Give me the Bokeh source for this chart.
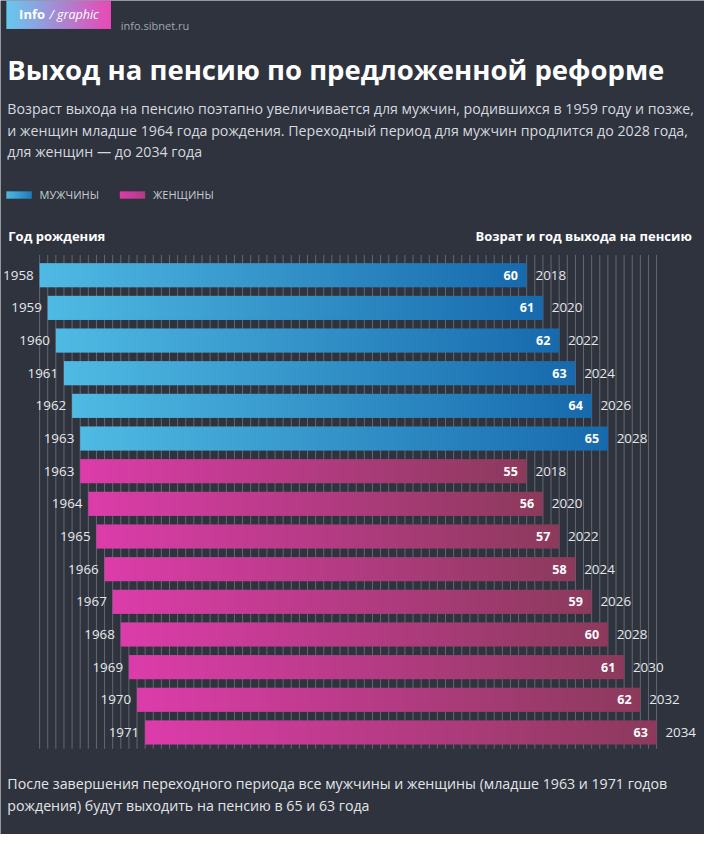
import numpy as np
from bokeh.plotting import figure
from bokeh.models import Range1d, Label
from bokeh.embed import file_html
from bokeh.resources import INLINE
from bokeh.core.properties import value

# ---------------- data ----------------
men_birth = [1958, 1959, 1960, 1961, 1962, 1963]
men_age = [60, 61, 62, 63, 64, 65]
men_exit = [2018, 2020, 2022, 2024, 2026, 2028]

women_birth = [1963, 1964, 1965, 1966, 1967, 1968, 1969, 1970, 1971]
women_age = [55, 56, 57, 58, 59, 60, 61, 62, 63]
women_exit = [2018, 2020, 2022, 2024, 2026, 2028, 2030, 2032, 2034]

legend_labels = ["МУЖЧИНЫ", "ЖЕНЩИНЫ"]

title_text = "Выход на пенсию по предложенной реформе"
subtitle_lines = [
    "Возраст выхода на пенсию поэтапно увеличивается для мужчин, родившихся в 1959 году и позже,",
    "и женщин младше 1964 года рождения. Переходный период для мужчин продлится до 2028 года,",
    "для женщин — до 2034 года",
]
note_lines = [
    "После завершения переходного периода все мужчины и женщины (младше 1963 и 1971 годов",
    "рождения) будут выходить на пенсию в 65 и 63 года",
]

# ---------------- style ----------------
BG = "#2e333e"
MEN_C = ("#4fbae3", "#176aad")
WOMEN_C = ("#dc3caa", "#8c3a5c")
FONT = "Open Sans"

W, H = 704, 834
SX, SY = W / 720, H / 850
PPY = (671 - 40) * SX / (2034 - 1958)          # pixels per year
X0 = 1958 - 40 * SX / PPY
X1 = X0 + W / PPY
ROW0 = 280 * SY
PITCH = (746 - 280) / 14 * SY
Y_TOP = (0 - ROW0) / PITCH
Y_BOT = (H - ROW0) / PITCH


def RX(rx):
    return X0 + rx * SX / PPY


def RY(ry):
    return (ry * SY - ROW0) / PITCH


def PADX(px):
    return px * SX / PPY


def hex_rgb(h):
    h = h.lstrip("#")
    return [int(h[i:i + 2], 16) for i in (0, 2, 4)]


def grad(c1, c2, n=256):
    a = np.array(hex_rgb(c1), dtype=float)
    b = np.array(hex_rgb(c2), dtype=float)
    t = np.linspace(0, 1, n)[:, None]
    rgb = np.round(a + (b - a) * t).astype(np.uint8)
    img = np.empty((1, n), dtype=np.uint32)
    v = img.view(dtype=np.uint8).reshape((1, n, 4))
    v[0, :, 0:3] = rgb
    v[0, :, 3] = 255
    return img


p = figure(width=W, height=H, x_range=Range1d(X0, X1), y_range=Range1d(Y_BOT, Y_TOP),
           output_backend="svg", toolbar_location=None, min_border=0,
           x_axis_location=None, y_axis_location=None)
p.grid.visible = False
p.outline_line_color = None
p.background_fill_color = BG
p.border_fill_color = BG

births = men_birth + women_birth
exits = men_exit + women_exit
ages = men_age + women_age
rows = list(range(len(births)))
BH = 0.74

# vertical year grid
grid_years = list(range(min(births), max(exits) + 1))
p.segment(x0=grid_years, x1=grid_years, y0=[-0.62] * len(grid_years), y1=[14.5] * len(grid_years),
          line_color="#858a94", line_alpha=0.6, line_width=1)

# bars with gradient
men_img = grad(*MEN_C)
women_img = grad(*WOMEN_C)
imgs = [men_img] * len(men_birth) + [women_img] * len(women_birth)
p.image_rgba(image=imgs, x=births, y=[r - BH / 2 for r in rows],
             dw=[e - b for b, e in zip(births, exits)], dh=[BH] * len(rows))

# labels on bars
p.text(x=[e - PADX(9) for e in exits], y=rows, text=[str(a) for a in ages],
       text_align="right", text_baseline="middle", text_font=value(FONT),
       text_font_style="bold", text_font_size="12.5px", text_color="white")
p.text(x=[e + PADX(9) for e in exits], y=rows, text=[str(e) for e in exits],
       text_align="left", text_baseline="middle", text_font=value(FONT),
       text_font_size="13.4px", text_color="#e6e8eb")
p.text(x=[b - PADX(6) for b in births], y=rows, text=[str(b) for b in births],
       text_align="right", text_baseline="middle", text_font=value(FONT),
       text_font_size="13.4px", text_color="#e6e8eb")

# header badge
p.image_rgba(image=[grad("#66c9f0", "#ea48b6")], x=[RX(6)], y=[RY(0)],
             dw=[RX(113) - RX(6)], dh=[RY(29) - RY(0)])


def lab(x, y, text, size, color="white", style="normal", align="left"):
    p.add_layout(Label(x=x, y=y, text=text, text_font=FONT, text_font_size=size,
                       text_color=color, text_font_style=style, text_align=align,
                       text_baseline="middle"))


lab(RX(19), RY(14), "Info", "13px", style="bold")
lab(RX(50), RY(14), "/ graphic", "12.5px", style="italic")
lab(RX(123), RY(25), "info.sibnet.ru", "11px", color="#a3a7ae")

lab(RX(7), RY(70), title_text, "27.5px", style="bold")
for i, line in enumerate(subtitle_lines):
    lab(RX(7), RY(110 + i * 22), line, "14.2px", color="#d6d9de")

# legend
p.image_rgba(image=[grad("#4fbae3", "#1f7ab8")], x=[RX(6)], y=[RY(194.5)],
             dw=[RX(32) - RX(6)], dh=[RY(202) - RY(194.5)])
p.image_rgba(image=[grad("#dc3caa", "#b03a85")], x=[RX(122)], y=[RY(194.5)],
             dw=[RX(148) - RX(122)], dh=[RY(202) - RY(194.5)])
lab(RX(40), RY(198), legend_labels[0], "11px", color="#c9ccd1")
lab(RX(156), RY(198), legend_labels[1], "11px", color="#c9ccd1")

lab(RX(8), RY(240), "Год рождения", "13px", style="bold")
lab(RX(707), RY(240), "Возрат и год выхода на пенсию", "13px", style="bold", align="right")

for i, line in enumerate(note_lines):
    lab(RX(7), RY(798 + i * 22), line, "14.2px", color="#e3e5e8")

open("out.html", "w").write(file_html(p, INLINE))
